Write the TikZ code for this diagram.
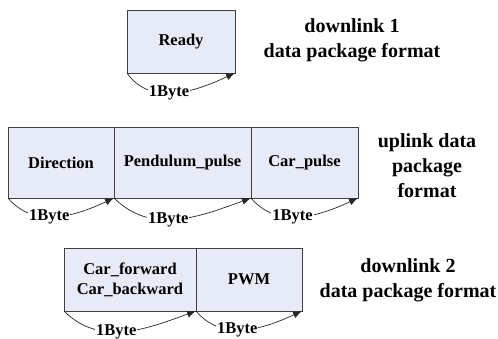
\documentclass[tikz,border=0pt]{standalone}
\usepackage{fontspec}
\setmainfont{Liberation Serif}
\usetikzlibrary{arrows.meta,positioning}
\definecolor{fieldblue}{RGB}{231,235,247}
\tikzset{
	field/.style={draw=black!75, fill=fieldblue, line width=0.8pt, inner sep=0pt, outer sep=0pt,
		align=center, text=black, font=\fontsize{16.5}{20}\selectfont\bfseries},
	bytearrow/.style={draw=black!85, line width=0.7pt, -{Latex[length=9pt,width=7pt]}},
	bytelabel/.style={fill=white, inner sep=1pt, text=black, font=\fontsize{16.5}{20}\selectfont\bfseries},
	formattext/.style={align=center, text=black, font=\fontsize{20}{25}\selectfont\bfseries}
}

\begin{document}
\begin{tikzpicture}[x=1pt, y=1pt, node distance=0pt]
			%%%%% START %%%%%
			\useasboundingbox (0, 0) rectangle (498, 338);
			
			% downlink 1
			\node[field, minimum width=108, minimum height=63] (ready) at (181, 296.5) {Ready};
			\draw[bytearrow] (ready.south west) to[out=-55, in=-155] node[bytelabel, pos=0.44] {1Byte} (ready.south east);
			\node[formattext] (down1) at (352, 297.5) {downlink 1\\data package format};
			
			% uplink
			\node[field, minimum width=106, minimum height=71] (dir) at (61, 175.5) {Direction};
			\node[field, minimum width=137, minimum height=71, right=of dir] (pend) {Pendulum\_pulse};
			\node[field, minimum width=107, minimum height=71, right=of pend] (carp) {Car\_pulse};
			\draw[bytearrow] (dir.south west) to[out=-50, in=-155] node[bytelabel, pos=0.43] {1Byte} (dir.south east);
			\draw[bytearrow] (pend.south west) to[out=-45, in=-160] node[bytelabel, pos=0.43] {1Byte} (pend.south east);
			\draw[bytearrow] (carp.south west) to[out=-50, in=-155] node[bytelabel, pos=0.43] {1Byte} (carp.south east);
			\node[formattext] (up) at (427, 172) {uplink data\\package\\format};
			
			% downlink 2
			\node[field, minimum width=132, minimum height=63] (carfb) at (130, 58.5) {Car\_forward\\Car\_backward};
			\node[field, minimum width=106, minimum height=63, right=of carfb] (pwm) {PWM};
			\draw[bytearrow] (carfb.south west) to[out=-45, in=-160] node[bytelabel, pos=0.43] {1Byte} (carfb.south east);
			\draw[bytearrow] (pwm.south west) to[out=-50, in=-155] node[bytelabel, pos=0.43] {1Byte} (pwm.south east);
			\node[formattext] (down2) at (408, 57.5) {downlink 2\\data package format};
			
			%%%%% END %%%%%
		\end{tikzpicture}
\end{document}
